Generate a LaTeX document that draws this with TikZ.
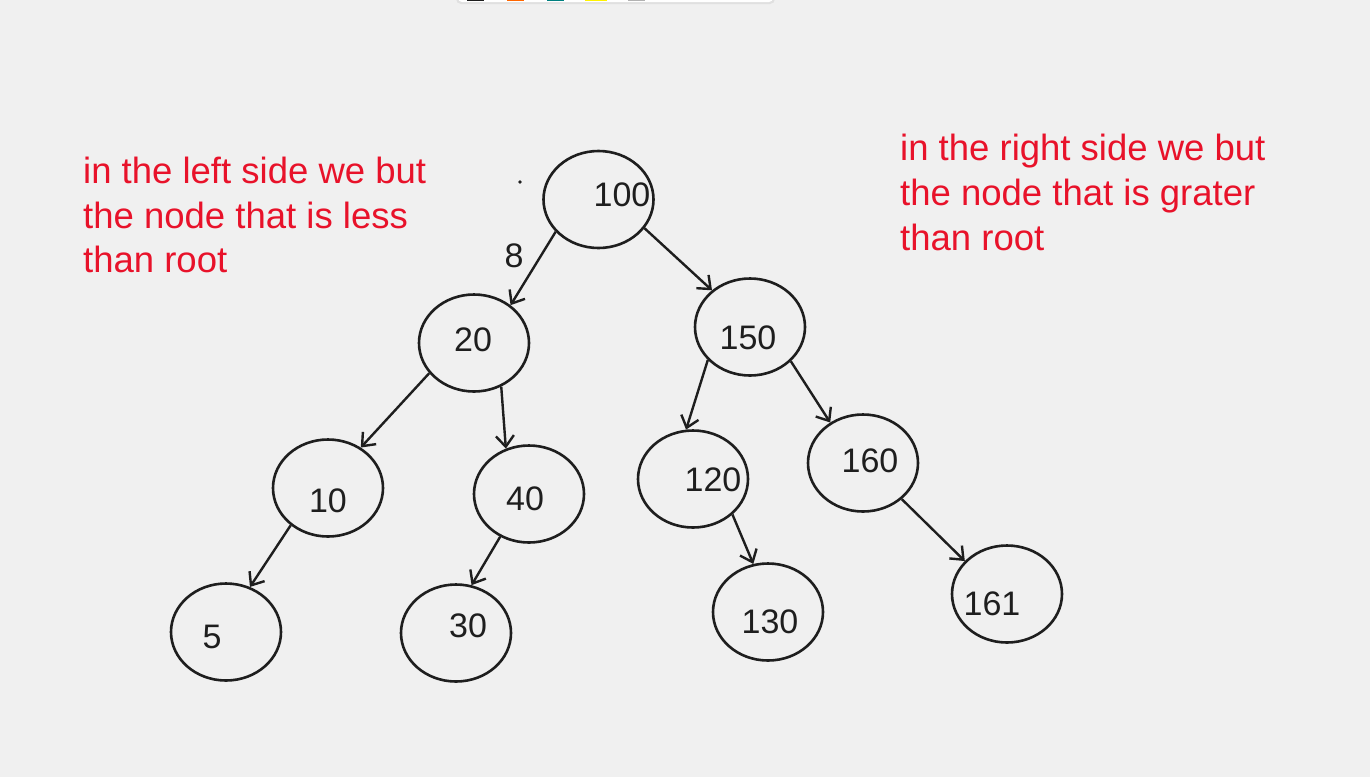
\documentclass[tikz,border=0pt]{standalone}
\usepackage{fontspec}
\setmainfont{Liberation Sans}
\usetikzlibrary{shapes.geometric,arrows.meta}
\definecolor{bg}{HTML}{F0F0F0}
\definecolor{ink}{HTML}{1E1E1E}
\definecolor{notecol}{RGB}{232,18,42}
\begin{document}
\begin{tikzpicture}[x=1pt,y=-1pt,
  bnode/.style={ellipse,draw=ink,line width=2.6pt,minimum width=110pt,minimum height=97pt,inner sep=0pt},
  num/.style={text=ink,inner sep=0pt,font=\fontsize{34}{40}\selectfont},
  edge/.style={draw=ink,line width=2.4pt,-{Straight Barb[length=11pt,width=18pt,line width=2.4pt]}},
  notetext/.style={text=notecol,font=\fontsize{36.5}{45}\selectfont,anchor=base west,inner sep=0pt}]
\fill[bg] (0,0) rectangle (1370,777);
\useasboundingbox (0,0) rectangle (1370,777);
% toolbar fragment
\fill[black!12,rounded corners=5pt] (456,-10) rectangle (775,4);
\fill[white,rounded corners=4pt] (458,-10) rectangle (773,2);
\fill[ink] (467,-5) rectangle (484,1);
\fill[orange!80!red] (507,-5) rectangle (524,1);
\fill[blue!50!green] (547,-5) rectangle (564,1);
\fill[yellow] (585,-5) rectangle (607,1);
\fill[black!30] (628,-5) rectangle (645,1);
% notes
\node[notetext] (l1) at (83,183) {in the left side we but};
\node[notetext] (l2) at (83,228) {the node that is less};
\node[notetext] (l3) at (83,272) {than root};
\node[notetext] (r1) at (900,160) {in the right side we but};
\node[notetext] (r2) at (900,205) {the node that is grater};
\node[notetext] (r3) at (900,250) {than root};
% tree nodes
\node[bnode] (n100) at (598.5,199.5) {};
\node[bnode] (n20) at (474,343) {};
\node[bnode] (n150) at (750,327) {};
\node[bnode] (n10) at (328,488) {};
\node[bnode] (n40) at (529,494) {};
\node[bnode] (n120) at (693,479) {};
\node[bnode] (n160) at (863,463) {};
\node[bnode] (n5) at (226,632) {};
\node[bnode] (n30) at (456,633) {};
\node[bnode] (n130) at (768,612) {};
\node[bnode] (n161) at (1007,594) {};
% numbers
\node[num] (t100) at (622,195) {100};
\node[num] (t20) at (473,340) {20};
\node[num] (t150) at (748,338) {150};
\node[num] (t10) at (328,501) {10};
\node[num] (t40) at (525,499) {40};
\node[num] (t120) at (713,480) {120};
\node[num] (t160) at (870,461) {160};
\node[num] (t5) at (212,637) {5};
\node[num] (t30) at (468,626) {30};
\node[num] (t130) at (770,622) {130};
\node[num] (t161) at (992,604) {161};
\node[num] (t8) at (514,256) {8};
\fill[ink] (520,182) circle (1.8pt);
% edges
\draw[edge] (n100.217.5) -- (n20.46);
\draw[edge] (n100.-32) -- (n150.136);
\draw[edge] (n20.214) -- (n10.51);
\draw[edge] (n20.-58) -- (n40.117);
\draw[edge] (n150.218) -- (n120.98);
\draw[edge] (n150.-40) -- (n160.129);
\draw[edge] (n10.225) -- (n5.62);
\draw[edge] (n40.236) -- (n30.72);
\draw[edge] (n120.-42) -- (n130.107);
\draw[edge] (n160.-43) -- (n161.142);
\end{tikzpicture}
\end{document}
